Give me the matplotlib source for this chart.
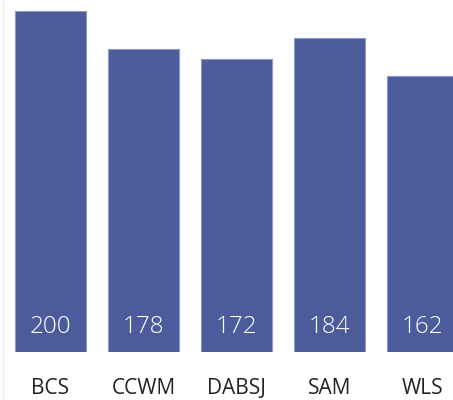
import matplotlib
matplotlib.use("Agg")
import matplotlib.pyplot as plt

categories = ["BCS", "CCWM", "DABSJ", "SAM", "WLS"]
values = [200, 178, 172, 184, 162]

bar_color = "#4b5b9b"
edge_color = "#8c9acb"

fig = plt.figure(figsize=(4.53, 4.00), dpi=100)
ax = fig.add_axes([0, 48 / 400, 1, 341 / 400])

x = list(range(len(categories)))
bars = ax.bar(x, values, width=0.753, color=bar_color, edgecolor=edge_color, linewidth=0.8)

ax.set_xlim(-50.5 / 93, (453 - 50.5) / 93)
ax.set_ylim(0, 200)

for xi, v in zip(x, values):
    ax.text(xi, 11, str(v), ha="center", va="baseline", color="white",
            fontsize=17.5, family="Open Sans", fontweight="light")

ax.set_xticks(x)
ax.set_xticklabels(categories, fontsize=15, family="Open Sans", color="#222222")
ax.tick_params(axis="x", length=0, pad=19)
ax.set_yticks([])
for s in ax.spines.values():
    s.set_visible(False)

fig.add_artist(plt.Line2D([2.5 / 453, 2.5 / 453], [0, 1], color="#eeeeee", linewidth=1))

fig.savefig("out.png", dpi=100)
